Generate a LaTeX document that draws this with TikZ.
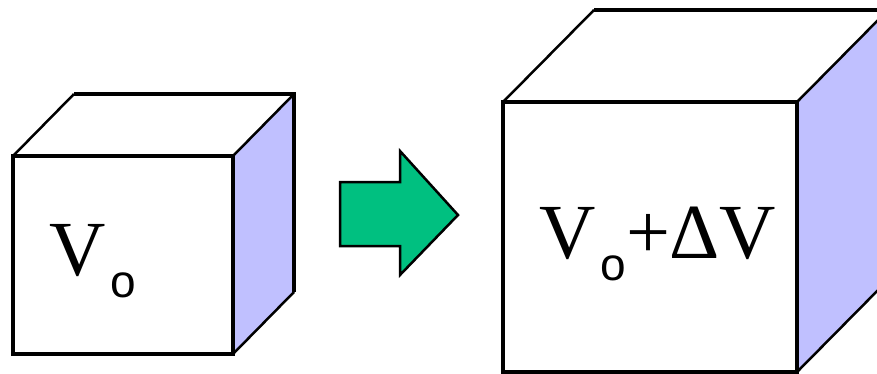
\documentclass[tikz,border=0pt]{standalone}
\usepackage{fontspec}
\setmainfont{Liberation Serif}
\setsansfont{Liberation Sans}
\definecolor{sideblue}{RGB}{192,192,255}
\definecolor{arrowgreen}{RGB}{0,192,128}
\newcommand{\volsub}{\kern5pt\raisebox{-22pt}{\fontsize{46}{46}\sffamily o}}

\begin{document}
\begin{tikzpicture}[x=1pt, y=-1pt, line join=miter,
  front/.style={draw, line width=3.5pt, fill=white},
  backedge/.style={line width=3.5pt},
  depth/.style={line width=2.5pt},
  label/.style={anchor=base west, inner sep=0pt, font=\fontsize{78}{78}\selectfont}]
\useasboundingbox (0,0) rectangle (877,374);
% small cube
\coordinate (s_fl) at (13,156);
\coordinate (s_fr) at (233,156);
\coordinate (s_br) at (233,354);
\coordinate (s_tl) at (74,94);
\coordinate (s_tr) at (294,94);
\coordinate (s_rb) at (294,292);
\fill [sideblue] (s_fr) -- (s_tr) -- (s_rb) -- (s_br) -- cycle;
\draw [backedge] (s_tl) -- (s_tr) -- (s_rb);
\draw [depth] (s_fl) -- (s_tl) (s_fr) -- (s_tr) (s_br) -- (s_rb);
\draw [front] (s_fl) rectangle (s_br);
\node [label] (v_small) at (49,275) {V\volsub};
% arrow
\filldraw [fill=arrowgreen, line width=2.5pt] (340,182) -- (400,182) -- (400,151)
  -- (458,215) -- (400,275) -- (400,246) -- (340,246) -- cycle;
% big cube
\coordinate (b_fl) at (503,102);
\coordinate (b_fr) at (797,102);
\coordinate (b_br) at (797,372);
\coordinate (b_tl) at (594,10);
\coordinate (b_tr) at (888,10);
\coordinate (b_rb) at (888,280);
\fill [sideblue] (b_fr) -- (b_tr) -- (b_rb) -- (b_br) -- cycle;
\draw [backedge] (b_tl) -- (b_tr) -- (b_rb);
\draw [depth] (b_fl) -- (b_tl) (b_fr) -- (b_tr) (b_br) -- (b_rb);
\draw [front] (b_fl) rectangle (b_br);
\node [label] (v_big) at (539,258) {V\volsub+\kern-1ptΔV};
\end{tikzpicture}
\end{document}
